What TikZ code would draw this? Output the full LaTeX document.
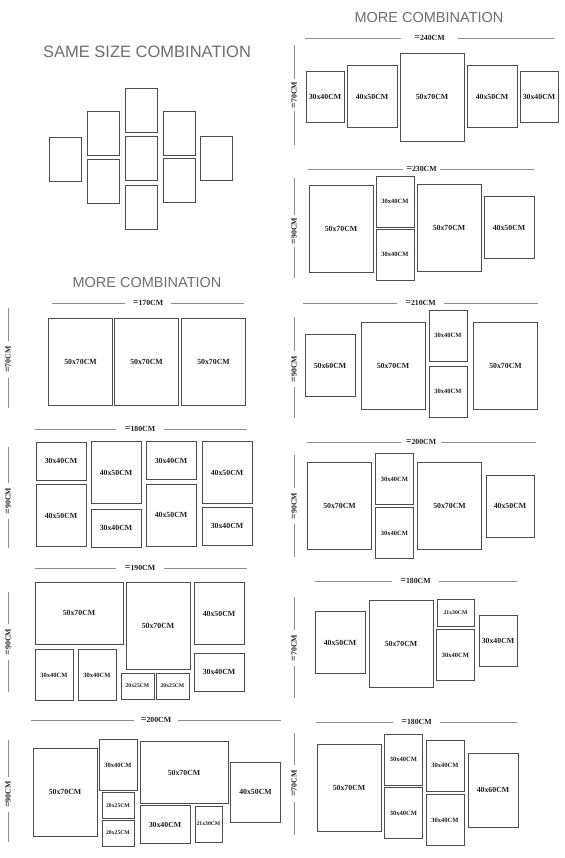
\documentclass[tikz,border=0pt]{standalone}
\usepackage{fontspec}
\setmainfont{Liberation Serif}
\newfontfamily\titrefont{Liberation Sans}
\usetikzlibrary{shapes}
\definecolor{griscadre}{HTML}{4C4C4C}
\definecolor{griscote}{HTML}{8E8E8E}
\definecolor{gristitre}{HTML}{6E6E6E}

\begin{document}
\begin{tikzpicture}[x=1pt,y=-1pt]
% style des cadres
\tikzstyle{cadre}=[rectangle,draw=griscadre,line width=0.95pt,inner sep=0pt,text=black!88,font=\bfseries\fontsize{7.8}{9}\selectfont]
\tikzstyle{meme}=[cadre,minimum width=32,minimum height=44]
\tikzstyle{p3040}=[cadre,minimum width=38,minimum height=51]
\tikzstyle{l3040}=[cadre,minimum width=50,minimum height=38]
\tikzstyle{p4050}=[cadre,minimum width=50,minimum height=62]
\tikzstyle{p4060}=[cadre,minimum width=50,minimum height=74]
\tikzstyle{p5070}=[cadre,minimum width=64,minimum height=87]
\tikzstyle{l5070}=[cadre,minimum width=88,minimum height=62]
\tikzstyle{p2025}=[cadre,minimum width=33,minimum height=26]
\tikzstyle{p2130}=[cadre,minimum width=27,minimum height=36]
\tikzstyle{l2130}=[cadre,minimum width=37,minimum height=27]
\tikzstyle{petit}=[font=\bfseries\fontsize{6.5}{7}\selectfont]
\tikzstyle{mini}=[font=\bfseries\fontsize{5.7}{6}\selectfont]
% style des cotes
\tikzstyle{cote}=[inner xsep=8pt,inner ysep=0pt,text=black!88,font=\bfseries\fontsize{7.8}{9}\selectfont]
\tikzstyle{cotev}=[cote,rotate=90,inner xsep=5pt]
\tikzstyle{trait}=[draw=griscote,line width=0.7pt]
% style des titres
\tikzstyle{titre}=[text=gristitre,font=\titrefont\fontsize{16.5}{18}\selectfont]
\tikzstyle{titre2}=[text=gristitre,font=\titrefont\fontsize{14.5}{16}\selectfont]

\useasboundingbox (0,0) rectangle (564,858);

% titres
\node[titre] (T1) at (147,52) {SAME SIZE COMBINATION};
\node[titre2] (T2) at (429,18) {MORE COMBINATION};
\node[titre2] (T3) at (147,283) {MORE COMBINATION};

% meme taille
\node[meme] (M1) at (65.5,159) {};
\node[meme] (M2) at (103,133) {};
\node[meme] (M3) at (103,181.5) {};
\node[meme] (M4) at (141,110.5) {};
\node[meme] (M5) at (141,158.5) {};
\node[meme] (M6) at (141,207) {};
\node[meme] (M7) at (179,133) {};
\node[meme] (M8) at (179,180.5) {};
\node[meme] (M9) at (216.5,158) {};

% colonne droite : 240CM
\node[p3040] (D1a) at (325,97) {30x40CM};
\node[p4050] (D1b) at (372,96.5) {40x50CM};
\node[p5070,minimum height=88] (D1c) at (432,97) {50x70CM};
\node[p4050] (D1d) at (492,96.5) {40x50CM};
\node[p3040] (D1e) at (539,97) {30x40CM};
\node[cote,inner xsep=13pt] (D1w) at (429.5,38) {{\fontsize{10}{10}\selectfont=}240CM};
\coordinate (D1wg) at (305,38);
\coordinate (D1wd) at (555,38);
\node[cotev,inner xsep=3pt] (D1h) at (294,95) {{\fontsize{10}{10}\selectfont=}70CM};
\coordinate (D1ht) at (294,45);
\coordinate (D1hb) at (294,145);

% colonne droite : 230CM
\node[p5070] (D2a) at (341,228.5) {50x70CM};
\node[p3040,petit] (D2b) at (395,201.5) {30x40CM};
\node[p3040,petit] (D2c) at (395,254.5) {30x40CM};
\node[p5070] (D2d) at (449,228) {50x70CM};
\node[p4050] (D2e) at (509,227.5) {40x50CM};
\node[cote,inner xsep=3pt] (D2w) at (421.5,169) {{\fontsize{10}{10}\selectfont=}230CM};
\coordinate (D2wg) at (308,169);
\coordinate (D2wd) at (534,169);
\node[cotev,inner xsep=3pt] (D2h) at (294,231) {{\fontsize{10}{10}\selectfont=}90CM};
\coordinate (D2ht) at (294,178);
\coordinate (D2hb) at (294,278);

% colonne droite : 210CM
\node[p4050] (D3a) at (330,365.5) {50x60CM};
\node[p5070] (D3b) at (393,365.5) {50x70CM};
\node[p3040,petit] (D3c) at (448,335.5) {30x40CM};
\node[p3040,petit] (D3d) at (448,391.5) {30x40CM};
\node[p5070] (D3e) at (505.5,365.5) {50x70CM};
\node[cote] (D3w) at (420.5,303) {{\fontsize{10}{10}\selectfont=}210CM};
\coordinate (D3wg) at (303,303);
\coordinate (D3wd) at (538,303);
\node[cotev] (D3h) at (294,369) {{\fontsize{10}{10}\selectfont=}90CM};
\coordinate (D3ht) at (294,317);
\coordinate (D3hb) at (294,418);

% colonne droite : 200CM
\node[p5070] (D4a) at (339.5,506) {50x70CM};
\node[p3040,petit] (D4b) at (394.5,479) {30x40CM};
\node[p3040,petit] (D4c) at (394.5,533) {30x40CM};
\node[p5070] (D4d) at (449.5,506) {50x70CM};
\node[p4050,minimum width=48] (D4e) at (510,506) {40x50CM};
\node[cote,inner xsep=4.5pt] (D4w) at (421,442) {{\fontsize{10}{10}\selectfont=}200CM};
\coordinate (D4wg) at (307,442);
\coordinate (D4wd) at (536,442);
\node[cotev] (D4h) at (294,506) {{\fontsize{10}{10}\selectfont=}90CM};
\coordinate (D4ht) at (294,455);
\coordinate (D4hb) at (294,557);

% colonne droite : 180CM
\node[p4050] (D5a) at (340,642.5) {40x50CM};
\node[p5070] (D5b) at (401,643.5) {50x70CM};
\node[l2130,mini] (D5c) at (455.5,612.5) {21x30CM};
\node[p3040,petit] (D5d) at (455.5,655) {30x40CM};
\node[p3040] (D5e) at (498,641) {30x40CM};
\node[cote] (D5w) at (415.5,581) {{\fontsize{10}{10}\selectfont=}180CM};
\coordinate (D5wg) at (315,581);
\coordinate (D5wd) at (517,581);
\node[cotev] (D5h) at (294,648) {{\fontsize{10}{10}\selectfont=}70CM};
\coordinate (D5ht) at (294,597);
\coordinate (D5hb) at (294,698);

% colonne droite : 180CM (bas)
\node[p5070] (D6a) at (349,788) {50x70CM};
\node[p3040,petit] (D6b) at (403.5,759.5) {30x40CM};
\node[p3040,petit] (D6c) at (403.5,813) {30x40CM};
\node[p3040,petit] (D6d) at (445,765.5) {30x40CM};
\node[p3040,petit] (D6e) at (445,820) {30x40CM};
\node[p4060] (D6f) at (493,790) {40x60CM};
\node[cote] (D6w) at (416.5,722) {{\fontsize{10}{10}\selectfont=}180CM};
\coordinate (D6wg) at (316,722);
\coordinate (D6wd) at (517,722);
\node[cotev] (D6h) at (294,783.5) {{\fontsize{10}{10}\selectfont=}70CM};
\coordinate (D6ht) at (294,733);
\coordinate (D6hb) at (294,835);

% colonne gauche : 170CM
\node[p5070] (G1a) at (80.5,361.5) {50x70CM};
\node[p5070] (G1b) at (146.5,361.5) {50x70CM};
\node[p5070] (G1c) at (213.5,361.5) {50x70CM};
\node[cote] (G1w) at (148,303) {{\fontsize{10}{10}\selectfont=}170CM};
\coordinate (G1wg) at (52,303);
\coordinate (G1wd) at (244,303);
\node[cotev] (G1h) at (8,359.5) {{\fontsize{10}{10}\selectfont=}70CM};
\coordinate (G1ht) at (8,308);
\coordinate (G1hb) at (8,408);

% colonne gauche : 180CM
\node[l3040] (G2a) at (61,461) {30x40CM};
\node[p4050] (G2b) at (61,515.5) {40x50CM};
\node[p4050] (G2c) at (116,472.5) {40x50CM};
\node[l3040] (G2d) at (116,528) {30x40CM};
\node[l3040] (G2e) at (171,460.5) {30x40CM};
\node[p4050] (G2f) at (171,515) {40x50CM};
\node[p4050] (G2g) at (227,472.5) {40x50CM};
\node[l3040] (G2h) at (227,526) {30x40CM};
\node[cote,inner xsep=9pt] (G2w) at (140,429) {{\fontsize{10}{10}\selectfont=}180CM};
\coordinate (G2wg) at (35,429);
\coordinate (G2wd) at (247,429);
\node[cotev] (G2h) at (8,501) {{\fontsize{10}{10}\selectfont=}90CM};
\coordinate (G2ht) at (8,447);
\coordinate (G2hb) at (8,548);

% colonne gauche : 190CM
\node[l5070] (G3a) at (79,613) {50x70CM};
\node[p5070] (G3b) at (158,625.5) {50x70CM};
\node[p4050] (G3c) at (219,613.5) {40x50CM};
\node[l3040] (G3d) at (219,672) {30x40CM};
\node[p3040,petit] (G3e) at (54,675) {30x40CM};
\node[p3040,petit] (G3f) at (97,675) {30x40CM};
\node[p2025,mini] (G3g) at (137.5,686) {20x25CM};
\node[p2025,mini] (G3k) at (172.5,686) {20x25CM};
\node[cote,inner xsep=9pt] (G3w) at (140,568) {{\fontsize{10}{10}\selectfont=}190CM};
\coordinate (G3wg) at (35,568);
\coordinate (G3wd) at (247,568);
\node[cotev] (G3h) at (8,642) {{\fontsize{10}{10}\selectfont=}90CM};
\coordinate (G3ht) at (8,592);
\coordinate (G3hb) at (8,692);

% colonne gauche : 200CM
\node[p5070,minimum height=88] (G4a) at (65,792) {50x70CM};
\node[p3040,petit] (G4b) at (118,765) {30x40CM};
\node[p2025,mini,minimum width=32] (G4c) at (118,805.5) {20x25CM};
\node[p2025,mini,minimum width=32] (G4d) at (118,833) {20x25CM};
\node[l5070] (G4e) at (184,772.5) {50x70CM};
\node[l3040] (G4f) at (165,824.5) {30x40CM};
\node[p2130,mini] (G4g) at (208.5,824) {21x30CM};
\node[p4050,minimum height=60] (G4k) at (255.5,792) {40x50CM};
\node[cote,inner xsep=6.5pt] (G4w) at (156,720) {{\fontsize{10}{10}\selectfont=}200CM};
\coordinate (G4wg) at (31,720);
\coordinate (G4wd) at (281,720);
\node[cotev,inner xsep=4pt] (G4h) at (8,794.5) {{\fontsize{10}{10}\selectfont=}90CM};
\coordinate (G4ht) at (8,740);
\coordinate (G4hb) at (8,842);

% traits de cote
\foreach \g in {D1,D2,D3,D4,D5,D6,G1,G2,G3,G4}{
  \draw[trait] (\g wg) -- (\g w);
  \draw[trait] (\g w) -- (\g wd);
  \draw[trait] (\g ht) -- (\g h);
  \draw[trait] (\g h) -- (\g hb);
}

\end{tikzpicture}
\end{document}
